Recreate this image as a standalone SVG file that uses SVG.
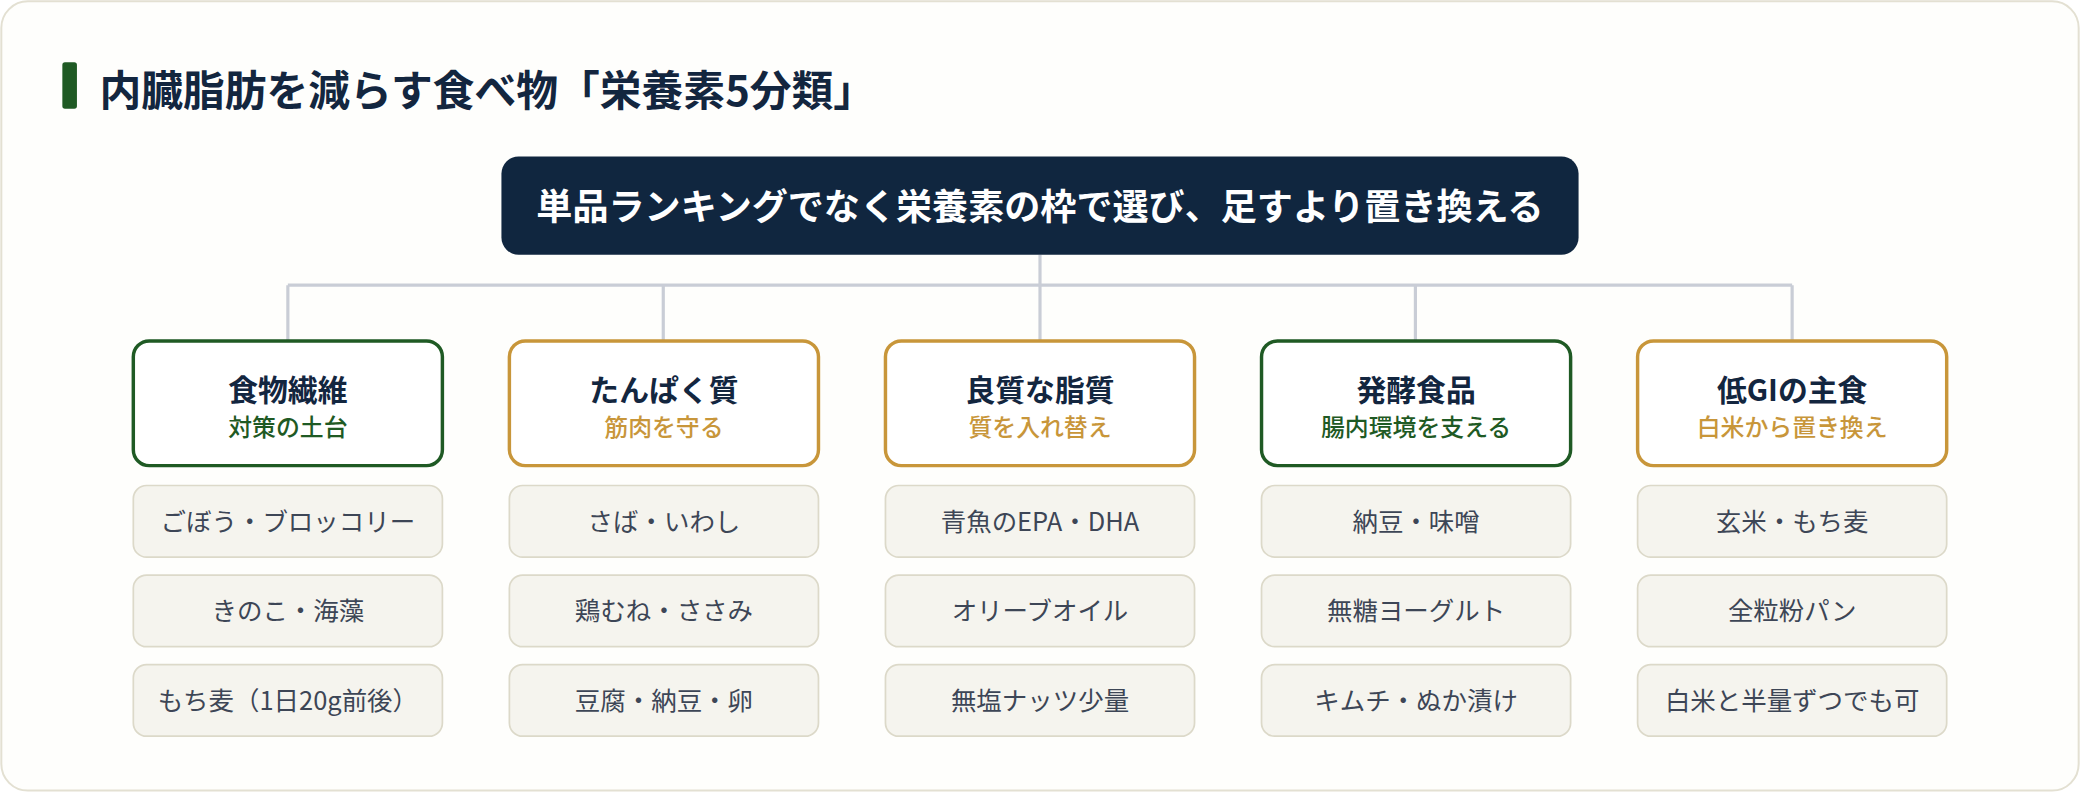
<svg xmlns="http://www.w3.org/2000/svg" width="2080" height="792" viewBox="0 0 2080 792">
<style>
text{font-family:"Noto Sans CJK JP","Noto Sans",sans-serif;text-anchor:middle}
.cat{fill:#fff;stroke-width:2.6}
.g{stroke:#1f5a24}.o{stroke:#c8963a}
.gt{fill:#1f5a24}.ot{fill:#c8963a}
.ct{font-size:22.5px;font-weight:700;fill:#13263f}
.st{font-size:18px;font-weight:500}
.it{fill:#f5f4ee;stroke:#dcd9c9;stroke-width:1.3}
.itt{font-size:19.2px;fill:#3d4656}
.con{stroke:#c9cdd6;stroke-width:2.4;fill:none}
</style>
<g transform="scale(1.32653)">
<rect x="1" y="1" width="1566" height="595" rx="20" fill="#fefefc" stroke="#e3e0d2" stroke-width="1.5"/>
<g id="title">
<rect x="47" y="47" width="11" height="35" rx="2" fill="#1f5a24"/>
<text x="75" y="80" style="text-anchor:start;font-size:31.5px;font-weight:700;fill:#13263f">内臓脂肪を減らす食べ物「栄養素5分類」</text>
</g>
<g id="connectors">
<path class="con" d="M784 192V215M217 215H1351M217 215V257M500 215V257M784 215V257M1067 215V257M1351 215V257"/>
</g>
<g id="root">
<rect x="378" y="118" width="812" height="74" rx="13" fill="#10263f"/>
<text x="784" y="166" style="font-size:27.2px;font-weight:700;fill:#fff">単品ランキングでなく栄養素の枠で選び、足すより置き換える</text>
</g>
<g id="fiber" transform="translate(217 0)">
<rect class="cat g" x="-116.5" y="257" width="233" height="94" rx="12"/>
<text class="ct" x="0" y="302">食物繊維</text><text class="st gt" x="0" y="329">対策の土台</text>
<rect class="it" x="-116.5" y="366" width="233" height="54" rx="10"/><text class="itt" x="0" y="400">ごぼう・ブロッコリー</text>
<rect class="it" x="-116.5" y="433.5" width="233" height="54" rx="10"/><text class="itt" x="0" y="467.5">きのこ・海藻</text>
<rect class="it" x="-116.5" y="501" width="233" height="54" rx="10"/><text class="itt" x="0" y="535">もち麦（1日20g前後）</text>
</g>
<g id="protein" transform="translate(500.5 0)">
<rect class="cat o" x="-116.5" y="257" width="233" height="94" rx="12"/>
<text class="ct" x="0" y="302">たんぱく質</text><text class="st ot" x="0" y="329">筋肉を守る</text>
<rect class="it" x="-116.5" y="366" width="233" height="54" rx="10"/><text class="itt" x="0" y="400">さば・いわし</text>
<rect class="it" x="-116.5" y="433.5" width="233" height="54" rx="10"/><text class="itt" x="0" y="467.5">鶏むね・ささみ</text>
<rect class="it" x="-116.5" y="501" width="233" height="54" rx="10"/><text class="itt" x="0" y="535">豆腐・納豆・卵</text>
</g>
<g id="fat" transform="translate(784 0)">
<rect class="cat o" x="-116.5" y="257" width="233" height="94" rx="12"/>
<text class="ct" x="0" y="302">良質な脂質</text><text class="st ot" x="0" y="329">質を入れ替え</text>
<rect class="it" x="-116.5" y="366" width="233" height="54" rx="10"/><text class="itt" x="0" y="400">青魚のEPA・DHA</text>
<rect class="it" x="-116.5" y="433.5" width="233" height="54" rx="10"/><text class="itt" x="0" y="467.5">オリーブオイル</text>
<rect class="it" x="-116.5" y="501" width="233" height="54" rx="10"/><text class="itt" x="0" y="535">無塩ナッツ少量</text>
</g>
<g id="ferment" transform="translate(1067.5 0)">
<rect class="cat g" x="-116.5" y="257" width="233" height="94" rx="12"/>
<text class="ct" x="0" y="302">発酵食品</text><text class="st gt" x="0" y="329">腸内環境を支える</text>
<rect class="it" x="-116.5" y="366" width="233" height="54" rx="10"/><text class="itt" x="0" y="400">納豆・味噌</text>
<rect class="it" x="-116.5" y="433.5" width="233" height="54" rx="10"/><text class="itt" x="0" y="467.5">無糖ヨーグルト</text>
<rect class="it" x="-116.5" y="501" width="233" height="54" rx="10"/><text class="itt" x="0" y="535">キムチ・ぬか漬け</text>
</g>
<g id="lowgi" transform="translate(1351 0)">
<rect class="cat o" x="-116.5" y="257" width="233" height="94" rx="12"/>
<text class="ct" x="0" y="302">低GIの主食</text><text class="st ot" x="0" y="329">白米から置き換え</text>
<rect class="it" x="-116.5" y="366" width="233" height="54" rx="10"/><text class="itt" x="0" y="400">玄米・もち麦</text>
<rect class="it" x="-116.5" y="433.5" width="233" height="54" rx="10"/><text class="itt" x="0" y="467.5">全粒粉パン</text>
<rect class="it" x="-116.5" y="501" width="233" height="54" rx="10"/><text class="itt" x="0" y="535">白米と半量ずつでも可</text>
</g>
</g>
</svg>
